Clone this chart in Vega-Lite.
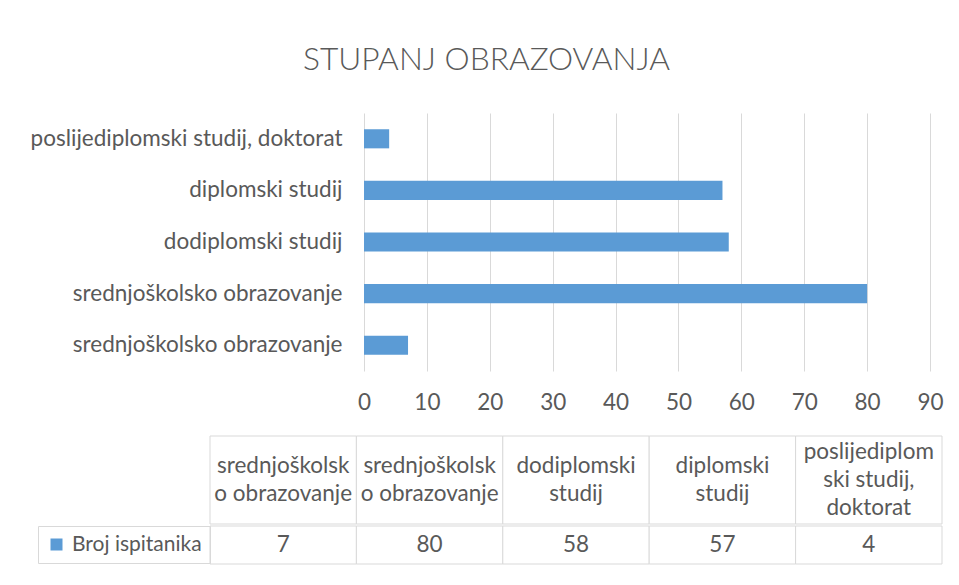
{
  "$schema": "https://vega.github.io/schema/vega-lite/v6.json",
  "background": "white",
  "padding": {"left": 30, "top": 45, "right": 5, "bottom": 5},
  "title": {"text": "STUPANJ OBRAZOVANJA", "font": "Lato", "fontSize": 31.7, "fontWeight": 300, "color": "#595959", "anchor": "middle", "offset": 36},
  "config": {"font": "Lato", "view": {"stroke": null}},
  "data": {"values": [
    {"red": 1, "kljuc": "1|srednjoškolsko obrazovanje", "zaglavlje": "srednjoškolsk\no obrazovanje", "broj": 7},
    {"red": 2, "kljuc": "2|srednjoškolsko obrazovanje", "zaglavlje": "srednjoškolsk\no obrazovanje", "broj": 80},
    {"red": 3, "kljuc": "3|dodiplomski studij", "zaglavlje": "dodiplomski\nstudij", "broj": 58},
    {"red": 4, "kljuc": "4|diplomski studij", "zaglavlje": "diplomski\nstudij", "broj": 57},
    {"red": 5, "kljuc": "5|poslijediplomski studij, doktorat", "zaglavlje": "poslijediplom\nski studij,\ndoktorat", "broj": 4}
  ]},
  "spacing": 21,
  "resolve": {"scale": {"color": "independent"}, "legend": {"color": "independent"}},
  "vconcat": [
    {
      "width": 720,
      "height": 258,
      "mark": {"type": "bar", "color": "#5b9bd5"},
      "encoding": {
        "y": {"field": "kljuc", "type": "nominal", "sort": {"field": "red", "order": "descending"},
          "scale": {"paddingInner": 0.63, "paddingOuter": 0.315},
          "axis": {"title": null, "domain": false, "ticks": false, "grid": false, "offset": -154, "labelPadding": 22, "labelFont": "Lato", "labelFontSize": 22.5, "labelColor": "#595959", "labelLimit": 0, "labelExpr": "split(datum.value, '|')[1]"}},
        "x": {"field": "broj", "type": "quantitative", "scale": {"domain": [-24.49, 90], "nice": false, "zero": false},
          "axis": {"title": null, "domain": false, "ticks": false, "grid": true, "gridColor": "#d9d9d9", "gridWidth": 1, "values": [0, 10, 20, 30, 40, 50, 60, 70, 80, 90], "labelFlush": false, "labelPadding": 20, "labelFont": "Lato", "labelFontSize": 22.5, "labelColor": "#595959"}}
      }
    },
    {
      "spacing": 0,
      "resolve": {"scale": {"color": "independent"}, "legend": {"color": "independent"}},
      "vconcat": [
        {
          "width": 732,
          "height": 88,
          "encoding": {
            "x": {"field": "red", "type": "ordinal", "sort": "ascending", "scale": {"paddingInner": 0, "paddingOuter": 0}, "axis": null}
          },
          "layer": [
            {"mark": {"type": "rect", "fill": "white", "stroke": "#d9d9d9", "strokeWidth": 1}},
            {"transform": [{"filter": "datum.red < 5"}],
             "mark": {"type": "text", "lineBreak": "\n", "lineHeight": 28, "fontSize": 22.5, "font": "Lato", "color": "#595959", "baseline": "middle", "dy": -14},
             "encoding": {"text": {"field": "zaglavlje"}}},
            {"transform": [{"filter": "datum.red == 5"}],
             "mark": {"type": "text", "lineBreak": "\n", "lineHeight": 28, "fontSize": 22.5, "font": "Lato", "color": "#595959", "baseline": "middle", "dy": -28},
             "encoding": {"text": {"field": "zaglavlje"}}}
          ]
        },
        {
          "width": 732,
          "height": 38,
          "encoding": {
            "x": {"field": "red", "type": "ordinal", "sort": "ascending", "scale": {"paddingInner": 0, "paddingOuter": 0}, "axis": null}
          },
          "layer": [
            {"mark": {"type": "rect", "fill": "white", "stroke": "#d9d9d9", "strokeWidth": 1}},
            {"mark": {"type": "text", "fontSize": 22.5, "font": "Lato", "color": "#595959", "baseline": "middle"},
             "encoding": {"text": {"field": "broj", "type": "quantitative"}}},
            {"mark": {"type": "square", "size": 0, "filled": true},
             "encoding": {
               "x": {"value": 0},
               "color": {"datum": "Broj ispitanika", "type": "nominal", "scale": {"range": ["#5b9bd5"]},
                 "legend": {"title": null, "orient": "left", "offset": 0, "padding": 8, "strokeColor": "#d9d9d9", "symbolType": "square", "symbolSize": 144, "symbolOpacity": 1, "symbolStrokeWidth": 0, "labelFont": "Lato", "labelFontSize": 21, "labelColor": "#595959", "labelOffset": 5, "labelLimit": 0}}
             }}
          ]
        }
      ]
    }
  ]
}
